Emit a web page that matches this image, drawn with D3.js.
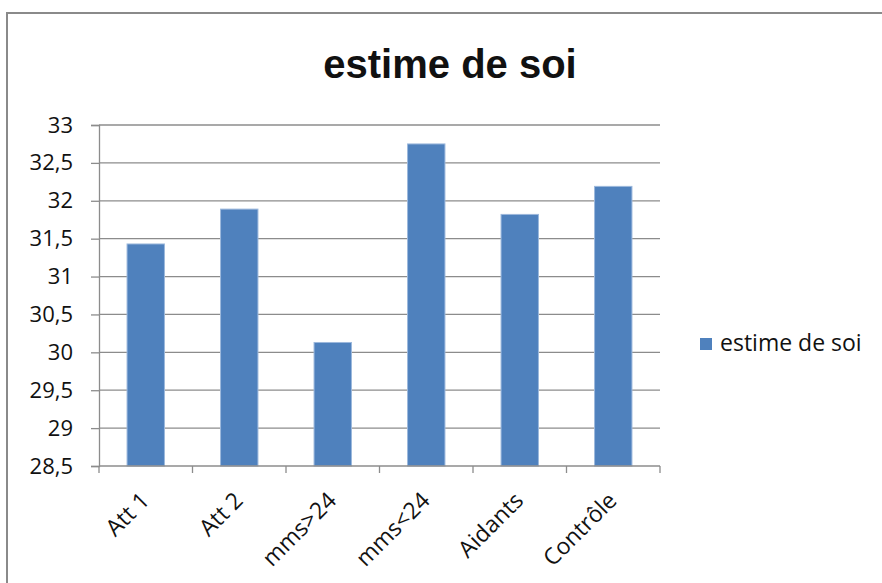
<!DOCTYPE html>
<html>
<head>
<meta charset="utf-8">
<script src="https://cdn.jsdelivr.net/npm/d3@7"></script>
<style>
  html, body { margin: 0; padding: 0; background: #fff; }
  svg { display: block; }
  text { font-family: "Open Sans", "Liberation Sans", sans-serif; fill: #111; }
</style>
</head>
<body>
<svg id="chart" width="882" height="583"></svg>
<script>
const categories = ["Att 1", "Att 2", "mms>24", "mms<24", "Aidants", "Contrôle"];
const values = [31.43, 31.89, 30.13, 32.75, 31.82, 32.19];
const seriesName = "estime de soi";
const chartTitle = "estime de soi";
const yTicks = [28.5, 29, 29.5, 30, 30.5, 31, 31.5, 32, 32.5, 33];

const svg = d3.select("#chart");

// outer border
svg.append("rect")
  .attr("x", 7).attr("y", 13)
  .attr("width", 900).attr("height", 600)
  .attr("fill", "#fff")
  .attr("stroke", "#8a8a8a")
  .attr("stroke-width", 2);

const plotLeft = 99, plotRight = 660, plotTop = 125, plotBottom = 466;

const x = d3.scaleBand().domain(categories).range([plotLeft, plotRight]).paddingInner(0.6).paddingOuter(0.3);
const y = d3.scaleLinear().domain([28.5, 33]).range([plotBottom, plotTop]);

// title
svg.append("text")
  .attr("x", 450).attr("y", 78)
  .attr("text-anchor", "middle")
  .style("font-family", "'Liberation Sans', Arial, sans-serif")
  .style("font-weight", "bold")
  .style("font-size", "40px")
  .text(chartTitle);

// gridlines
svg.append("g")
  .selectAll("line")
  .data(yTicks.slice(1))
  .join("line")
  .attr("x1", plotLeft).attr("x2", plotRight)
  .attr("y1", d => y(d)).attr("y2", d => y(d))
  .attr("stroke", "#8c8c8c")
  .attr("stroke-width", 1.3);

// bars
svg.append("g")
  .selectAll("rect")
  .data(categories)
  .join("rect")
  .attr("x", d => x(d))
  .attr("width", x.bandwidth())
  .attr("y", (d, i) => y(values[i]))
  .attr("height", (d, i) => y(28.5) - y(values[i]))
  .attr("fill", "#4f81bd")
  .attr("stroke", "#9cb8dc")
  .attr("stroke-width", 1);

// y axis
const yAxis = d3.axisLeft(y).tickValues(yTicks).tickSize(8).tickPadding(18)
  .tickFormat(d => d3.format(".1~f")(d).replace(".", ","));
const gy = svg.append("g").attr("transform", `translate(${plotLeft},0)`).call(yAxis);
gy.select(".domain").attr("stroke", "#8c8c8c").attr("stroke-width", 1.3);
gy.selectAll(".tick line").attr("stroke", "#8c8c8c").attr("stroke-width", 1.3);
gy.selectAll(".tick text").style("font-size", "22px").attr("fill", "#111");

// x axis line
svg.append("line")
  .attr("x1", plotLeft).attr("x2", plotRight)
  .attr("y1", plotBottom).attr("y2", plotBottom)
  .attr("stroke", "#8c8c8c").attr("stroke-width", 1.3);

// x tick marks at band boundaries
const boundaries = d3.range(categories.length + 1).map(i => plotLeft + i * (plotRight - plotLeft) / categories.length);
svg.append("g").selectAll("line")
  .data(boundaries)
  .join("line")
  .attr("x1", d => d).attr("x2", d => d)
  .attr("y1", plotBottom).attr("y2", plotBottom + 7)
  .attr("stroke", "#8c8c8c").attr("stroke-width", 1.3);

// x labels
svg.append("g").selectAll("text")
  .data(categories)
  .join("text")
  .attr("transform", d => `translate(${x(d) + x.bandwidth() / 2 + 5},${plotBottom + 36}) rotate(-45)`)
  .attr("text-anchor", "end")
  .style("font-size", "23px")
  .text(d => d);

// legend
const lg = svg.append("g");
lg.append("rect")
  .attr("x", 700).attr("y", 338)
  .attr("width", 12).attr("height", 12)
  .attr("fill", "#4f81bd");
lg.append("text")
  .attr("x", 720).attr("y", 351)
  .style("font-size", "23px")
  .text(seriesName);
</script>
</body>
</html>
